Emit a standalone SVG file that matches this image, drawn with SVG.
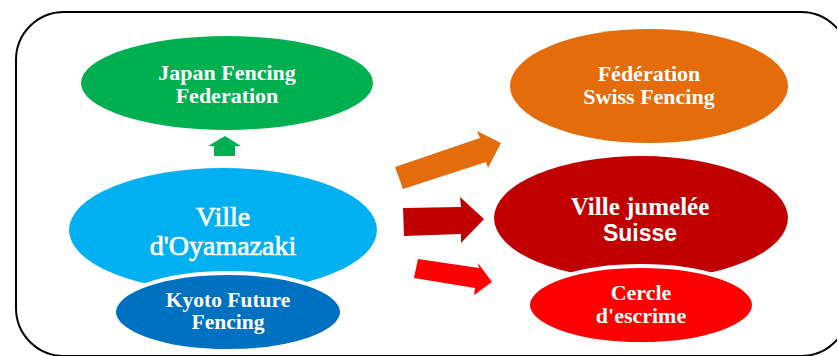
<svg xmlns="http://www.w3.org/2000/svg" width="837" height="356" viewBox="0 0 837 356">
<style>
.t{fill:#fff;font-family:"Liberation Serif","Times New Roman",serif;font-weight:bold;text-anchor:middle}
.r{fill:#fff;stroke:#fff;stroke-width:0.7;font-family:"Liberation Serif","Times New Roman",serif;font-weight:normal;text-anchor:middle}
.s{fill:#fff;font-family:"Liberation Sans",Arial,sans-serif;font-weight:bold;text-anchor:middle}
.sub{stroke:#fff;stroke-width:4}
</style>
<rect x="16" y="12" width="833" height="344" rx="48" ry="48" fill="#fff" stroke="#000" stroke-width="2"/>
<g id="connectors">
<polygon fill="#00B050" points="225,136 241,146 235,146 235,156 214,156 214,146 208,146"/>
<polygon fill="#E46C0A" points="395,167 480,138 477,131 501,143 488,168 486,162 403,189"/>
<polygon fill="#C00000" points="403,208 461,207 460,197 484,219 461,243 461,234 404,236"/>
<polygon fill="#FF0000" points="418,259 479,268 478,263 492,282 474,295 475,288 414,278"/>
</g>
<g id="jff">
<ellipse cx="227" cy="83" rx="146" ry="47" fill="#00B050"/>
<text class="t" x="227" y="80" font-size="22">Japan Fencing</text>
<text class="t" x="227" y="103" font-size="22">Federation</text>
</g>
<g id="fsf">
<ellipse cx="649" cy="86" rx="139" ry="57" fill="#E46C0A"/>
<text class="t" x="649" y="81" font-size="22">Fédération</text>
<text class="t" x="649" y="104" font-size="22">Swiss Fencing</text>
</g>
<g id="oyamazaki">
<ellipse cx="223" cy="230" rx="154" ry="62" fill="#00B0F0"/>
<text class="r" x="223" y="226" font-size="28">Ville</text>
<text class="r" x="223" y="255" font-size="28">d'Oyamazaki</text>
</g>
<g id="kyoto">
<ellipse class="sub" cx="228" cy="312" rx="114" ry="39" fill="#0070C0"/>
<text class="t" x="228" y="307" font-size="21.5">Kyoto Future</text>
<text class="t" x="228" y="329" font-size="21.5">Fencing</text>
</g>
<g id="jumelee">
<ellipse cx="641" cy="218" rx="147" ry="62" fill="#C00000"/>
<text class="t" x="640" y="215" font-size="25">Ville jumelée</text>
<text class="s" x="640" y="241" font-size="23">Suisse</text>
</g>
<g id="cercle">
<ellipse class="sub" cx="641" cy="305" rx="113" ry="39" fill="#FF0000"/>
<text class="t" x="641" y="300" font-size="22">Cercle</text>
<text class="t" x="641" y="323" font-size="22">d'escrime</text>
</g>
</svg>
